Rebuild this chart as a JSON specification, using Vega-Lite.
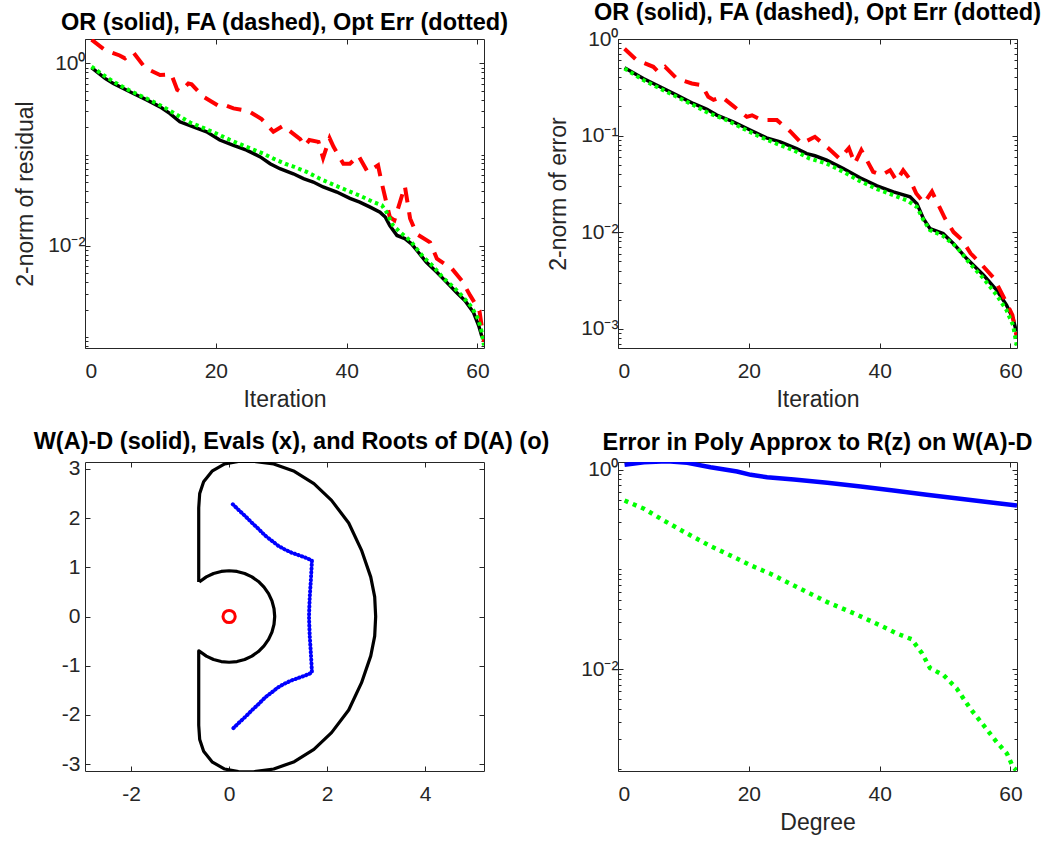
{
  "$schema": "https://vega.github.io/schema/vega-lite/v6.json",
  "background": "white",
  "padding": {"left": 14, "top": 0, "right": 5, "bottom": 2},
  "config": {
    "font": "Liberation Sans",
    "view": {"stroke": "#262626", "strokeWidth": 1},
    "axis": {
      "domain": false, "grid": false,
      "labelFont": "Liberation Sans", "labelFontSize": 21, "labelColor": "#262626",
      "tickColor": "#262626", "tickWidth": 1, "tickSize": -5,
      "titleFont": "Liberation Sans", "titleFontSize": 23, "titleFontWeight": "normal", "titleColor": "#262626"
    },
    "title": {"font": "Liberation Sans", "fontSize": 23.5, "fontWeight": "bold", "color": "#000000", "anchor": "middle", "baseline": "alphabetic", "offset": 4}
  },
  "datasets": {
    "res_or": [
      {"it": 1, "v": 0.897}, {"it": 3.06, "v": 0.684}, {"it": 4.33, "v": 0.603}, {"it": 5.86, "v": 0.531}, {"it": 7.39, "v": 0.468},
      {"it": 9.43, "v": 0.398}, {"it": 11.47, "v": 0.334}, {"it": 13.0, "v": 0.282}, {"it": 14.5, "v": 0.229}, {"it": 16.56, "v": 0.201},
      {"it": 18.6, "v": 0.178}, {"it": 20.6, "v": 0.1445}, {"it": 22.7, "v": 0.126}, {"it": 24.7, "v": 0.112}, {"it": 26.8, "v": 0.0944},
      {"it": 28.3, "v": 0.0794}, {"it": 29.8, "v": 0.0701}, {"it": 31.85, "v": 0.0617}, {"it": 33.4, "v": 0.0545}, {"it": 34.9, "v": 0.0501},
      {"it": 36.4, "v": 0.0442}, {"it": 38.5, "v": 0.0389}, {"it": 40.5, "v": 0.0331}, {"it": 42.0, "v": 0.0302}, {"it": 43.6, "v": 0.0266},
      {"it": 45.1, "v": 0.0234}, {"it": 45.9, "v": 0.0207}, {"it": 46.6, "v": 0.0167}, {"it": 47.7, "v": 0.0130}, {"it": 48.9, "v": 0.0120},
      {"it": 49.95, "v": 0.01047}, {"it": 50.96, "v": 0.00851}, {"it": 52.2, "v": 0.00661}, {"it": 53.8, "v": 0.00513}, {"it": 55.3, "v": 0.00398},
      {"it": 56.8, "v": 0.00309}, {"it": 58.1, "v": 0.00251}, {"it": 59.4, "v": 0.00186}, {"it": 60.2, "v": 0.00133}, {"it": 60.7, "v": 0.00100}
    ],
    "res_fa": [
      {"it": 1, "v": 1.82}, {"it": 3.06, "v": 1.40}, {"it": 5.3, "v": 1.22}, {"it": 6.1, "v": 1.135}, {"it": 7.39, "v": 1.32},
      {"it": 9.17, "v": 0.897}, {"it": 11.47, "v": 0.745}, {"it": 13.2, "v": 0.759}, {"it": 14.1, "v": 0.513}, {"it": 14.6, "v": 0.490},
      {"it": 15.8, "v": 0.603}, {"it": 16.3, "v": 0.589}, {"it": 18.1, "v": 0.431}, {"it": 20.4, "v": 0.343}, {"it": 21.1, "v": 0.355},
      {"it": 22.7, "v": 0.321}, {"it": 25.0, "v": 0.300}, {"it": 27.0, "v": 0.245}, {"it": 28.8, "v": 0.178}, {"it": 30.3, "v": 0.207},
      {"it": 30.8, "v": 0.193}, {"it": 32.9, "v": 0.148}, {"it": 33.6, "v": 0.1245}, {"it": 34.3, "v": 0.1445}, {"it": 35.7, "v": 0.138},
      {"it": 36.4, "v": 0.0920}, {"it": 37.4, "v": 0.151}, {"it": 38.0, "v": 0.1216}, {"it": 39.5, "v": 0.0794}, {"it": 40.5, "v": 0.0794},
      {"it": 41.8, "v": 0.0977}, {"it": 43.2, "v": 0.0646}, {"it": 44.8, "v": 0.0764}, {"it": 45.4, "v": 0.0479}, {"it": 46.6, "v": 0.0207},
      {"it": 47.3, "v": 0.01905}, {"it": 48.9, "v": 0.0452}, {"it": 49.7, "v": 0.0200}, {"it": 50.7, "v": 0.0135}, {"it": 52.75, "v": 0.01096},
      {"it": 53.8, "v": 0.00724}, {"it": 56.1, "v": 0.00562}, {"it": 57.6, "v": 0.00417}, {"it": 58.9, "v": 0.00285}, {"it": 60.3, "v": 0.00195},
      {"it": 61, "v": 0.00089}
    ],
    "res_opt": [
      {"it": 1, "v": 0.920}, {"it": 2.8, "v": 0.745}, {"it": 4.33, "v": 0.631}, {"it": 6.88, "v": 0.501}, {"it": 9.43, "v": 0.412},
      {"it": 11.97, "v": 0.334}, {"it": 14.0, "v": 0.275}, {"it": 16.06, "v": 0.225}, {"it": 18.1, "v": 0.196}, {"it": 20.1, "v": 0.170},
      {"it": 22.2, "v": 0.1445}, {"it": 24.7, "v": 0.1216}, {"it": 27.3, "v": 0.1023}, {"it": 28.8, "v": 0.0904}, {"it": 30.6, "v": 0.0794},
      {"it": 31.85, "v": 0.0741}, {"it": 33.9, "v": 0.0646}, {"it": 35.9, "v": 0.0545}, {"it": 37.97, "v": 0.0468}, {"it": 40.0, "v": 0.0407},
      {"it": 42.0, "v": 0.0355}, {"it": 44.1, "v": 0.0302}, {"it": 45.4, "v": 0.0278}, {"it": 46.1, "v": 0.0234}, {"it": 47.1, "v": 0.0167},
      {"it": 48.2, "v": 0.0141}, {"it": 49.7, "v": 0.01148}, {"it": 50.7, "v": 0.00933}, {"it": 51.7, "v": 0.00759}, {"it": 53.3, "v": 0.00589},
      {"it": 54.8, "v": 0.00442}, {"it": 56.3, "v": 0.00355}, {"it": 57.8, "v": 0.00275}, {"it": 59.1, "v": 0.00214}, {"it": 60.1, "v": 0.00158},
      {"it": 60.6, "v": 0.00118}, {"it": 61, "v": 0.00081}
    ],
    "err_or": [
      {"it": 1, "v": 0.503}, {"it": 3.87, "v": 0.390}, {"it": 6.42, "v": 0.320}, {"it": 8.97, "v": 0.262}, {"it": 11.5, "v": 0.215},
      {"it": 13.6, "v": 0.187}, {"it": 15.1, "v": 0.163}, {"it": 17.6, "v": 0.139}, {"it": 20.2, "v": 0.114}, {"it": 22.7, "v": 0.0946},
      {"it": 24.8, "v": 0.0861}, {"it": 27.3, "v": 0.0733}, {"it": 28.85, "v": 0.0650}, {"it": 30.1, "v": 0.0617}, {"it": 31.9, "v": 0.0556},
      {"it": 34.45, "v": 0.0455}, {"it": 37.0, "v": 0.0365}, {"it": 39.6, "v": 0.0301}, {"it": 42.1, "v": 0.0261}, {"it": 44.65, "v": 0.0232},
      {"it": 45.7, "v": 0.0197}, {"it": 46.7, "v": 0.0138}, {"it": 47.7, "v": 0.01086}, {"it": 49.7, "v": 0.00964}, {"it": 51.3, "v": 0.00759},
      {"it": 53.3, "v": 0.00531}, {"it": 55.9, "v": 0.00357}, {"it": 57.9, "v": 0.00250}, {"it": 59.4, "v": 0.00175}, {"it": 60.4, "v": 0.00127},
      {"it": 60.9, "v": 0.00093}
    ],
    "err_fa": [
      {"it": 1, "v": 0.794}, {"it": 2.86, "v": 0.604}, {"it": 5.4, "v": 0.515}, {"it": 6.16, "v": 0.457}, {"it": 7.2, "v": 0.515},
      {"it": 8.97, "v": 0.390}, {"it": 11.3, "v": 0.346}, {"it": 12.8, "v": 0.333}, {"it": 13.8, "v": 0.252}, {"it": 14.6, "v": 0.234},
      {"it": 15.85, "v": 0.252}, {"it": 17.6, "v": 0.203}, {"it": 19.7, "v": 0.156}, {"it": 20.5, "v": 0.162}, {"it": 22.0, "v": 0.1445},
      {"it": 24.3, "v": 0.1445}, {"it": 26.3, "v": 0.111}, {"it": 28.1, "v": 0.0826}, {"it": 30.1, "v": 0.0970}, {"it": 32.2, "v": 0.0733},
      {"it": 33.9, "v": 0.0575}, {"it": 35.3, "v": 0.0741}, {"it": 36.2, "v": 0.0513}, {"it": 37.2, "v": 0.0708}, {"it": 38.0, "v": 0.0562},
      {"it": 39.0, "v": 0.0421}, {"it": 40.3, "v": 0.0389}, {"it": 41.6, "v": 0.0437}, {"it": 42.6, "v": 0.0339}, {"it": 43.6, "v": 0.0437},
      {"it": 44.6, "v": 0.0355}, {"it": 45.6, "v": 0.0251}, {"it": 46.8, "v": 0.0200}, {"it": 48.0, "v": 0.0263}, {"it": 50.0, "v": 0.0138},
      {"it": 51.3, "v": 0.0100}, {"it": 52.6, "v": 0.00832}, {"it": 53.9, "v": 0.00603}, {"it": 55.5, "v": 0.00468}, {"it": 57.5, "v": 0.00331},
      {"it": 59.0, "v": 0.00209}, {"it": 60.3, "v": 0.00138}, {"it": 61, "v": 0.000794}
    ],
    "err_opt": [
      {"it": 1, "v": 0.494}, {"it": 3.87, "v": 0.375}, {"it": 6.42, "v": 0.307}, {"it": 8.97, "v": 0.252}, {"it": 11.5, "v": 0.207},
      {"it": 14.0, "v": 0.169}, {"it": 16.6, "v": 0.1445}, {"it": 19.15, "v": 0.118}, {"it": 21.7, "v": 0.0970}, {"it": 24.2, "v": 0.0826},
      {"it": 26.8, "v": 0.0706}, {"it": 29.3, "v": 0.0578}, {"it": 31.9, "v": 0.0513}, {"it": 34.45, "v": 0.0421}, {"it": 37.0, "v": 0.0337},
      {"it": 39.6, "v": 0.0279}, {"it": 42.1, "v": 0.0241}, {"it": 44.1, "v": 0.0214}, {"it": 45.7, "v": 0.0182}, {"it": 46.7, "v": 0.0133},
      {"it": 47.7, "v": 0.01047}, {"it": 49.7, "v": 0.00912}, {"it": 51.75, "v": 0.00703}, {"it": 53.8, "v": 0.00472}, {"it": 55.9, "v": 0.00330},
      {"it": 57.9, "v": 0.00222}, {"it": 59.4, "v": 0.00155}, {"it": 60.4, "v": 0.00108}, {"it": 61, "v": 0.00065}
    ],
    "poly_c": [
      {"d": 1, "v": 1.114}, {"d": 3.97, "v": 1.18}, {"d": 7.54, "v": 1.21}, {"d": 10.6, "v": 1.167}, {"d": 14.15, "v": 1.054},
      {"d": 18.2, "v": 0.955}, {"d": 20.3, "v": 0.885}, {"d": 22.8, "v": 0.838}, {"d": 26.9, "v": 0.794}, {"d": 32.0, "v": 0.736},
      {"d": 37.1, "v": 0.676}, {"d": 42.1, "v": 0.617}, {"d": 47.2, "v": 0.558}, {"d": 52.3, "v": 0.509}, {"d": 57.4, "v": 0.465},
      {"d": 61, "v": 0.437}
    ],
    "poly_o": [
      {"d": 1, "v": 0.490}, {"d": 3.97, "v": 0.405}, {"d": 7.0, "v": 0.309}, {"d": 10.6, "v": 0.228}, {"d": 14.15, "v": 0.171},
      {"d": 17.7, "v": 0.133}, {"d": 20.3, "v": 0.1096}, {"d": 23.3, "v": 0.0906}, {"d": 27.4, "v": 0.0665}, {"d": 32.0, "v": 0.0471},
      {"d": 36.55, "v": 0.0352}, {"d": 40.1, "v": 0.0275}, {"d": 42.65, "v": 0.0228}, {"d": 44.9, "v": 0.0200}, {"d": 46.5, "v": 0.0144},
      {"d": 47.7, "v": 0.0103}, {"d": 49.8, "v": 0.00871}, {"d": 51.8, "v": 0.00641}, {"d": 53.85, "v": 0.00405}, {"d": 55.9, "v": 0.00275},
      {"d": 57.9, "v": 0.00187}, {"d": 59.45, "v": 0.00144}, {"d": 60.4, "v": 0.00105}, {"d": 60.9, "v": 0.00098}
    ],
    "wad": [
      {"o": 1, "x": -0.62, "y": 0.70}, {"o": 2, "x": -0.62, "y": 1.5}, {"o": 3, "x": -0.62, "y": 2.21}, {"o": 4, "x": -0.60, "y": 2.50},
      {"o": 5, "x": -0.52, "y": 2.74}, {"o": 6, "x": -0.34, "y": 2.96}, {"o": 7, "x": -0.09, "y": 3.10}, {"o": 8, "x": 0.19, "y": 3.15},
      {"o": 9, "x": 0.50, "y": 3.155}, {"o": 10, "x": 0.91, "y": 3.10}, {"o": 11, "x": 1.33, "y": 2.95}, {"o": 12, "x": 1.73, "y": 2.70},
      {"o": 13, "x": 2.09, "y": 2.36}, {"o": 14, "x": 2.44, "y": 1.90}, {"o": 15, "x": 2.70, "y": 1.35}, {"o": 16, "x": 2.89, "y": 0.80},
      {"o": 17, "x": 2.97, "y": 0.40}, {"o": 18, "x": 2.99, "y": 0}, {"o": 19, "x": 2.97, "y": -0.40}, {"o": 20, "x": 2.89, "y": -0.80},
      {"o": 21, "x": 2.70, "y": -1.35}, {"o": 22, "x": 2.44, "y": -1.90}, {"o": 23, "x": 2.09, "y": -2.36}, {"o": 24, "x": 1.73, "y": -2.70},
      {"o": 25, "x": 1.33, "y": -2.95}, {"o": 26, "x": 0.91, "y": -3.10}, {"o": 27, "x": 0.50, "y": -3.155}, {"o": 28, "x": 0.19, "y": -3.15},
      {"o": 29, "x": -0.09, "y": -3.10}, {"o": 30, "x": -0.34, "y": -2.96}, {"o": 31, "x": -0.52, "y": -2.74}, {"o": 32, "x": -0.60, "y": -2.50},
      {"o": 33, "x": -0.62, "y": -2.21}, {"o": 34, "x": -0.62, "y": -1.5}, {"o": 35, "x": -0.62, "y": -0.70},
      {"o": 36, "x": -0.61, "y": -0.70}, {"o": 37, "x": -0.465, "y": -0.805}, {"o": 38, "x": -0.318, "y": -0.874}, {"o": 39, "x": -0.161, "y": -0.916},
      {"o": 40, "x": 0, "y": -0.93}, {"o": 41, "x": 0.161, "y": -0.916}, {"o": 42, "x": 0.318, "y": -0.874}, {"o": 43, "x": 0.465, "y": -0.805},
      {"o": 44, "x": 0.598, "y": -0.712}, {"o": 45, "x": 0.712, "y": -0.598}, {"o": 46, "x": 0.805, "y": -0.465}, {"o": 47, "x": 0.874, "y": -0.318},
      {"o": 48, "x": 0.916, "y": -0.161}, {"o": 49, "x": 0.93, "y": 0}, {"o": 50, "x": 0.916, "y": 0.161}, {"o": 51, "x": 0.874, "y": 0.318},
      {"o": 52, "x": 0.805, "y": 0.465}, {"o": 53, "x": 0.712, "y": 0.598}, {"o": 54, "x": 0.598, "y": 0.712}, {"o": 55, "x": 0.465, "y": 0.805},
      {"o": 56, "x": 0.318, "y": 0.874}, {"o": 57, "x": 0.161, "y": 0.916}, {"o": 58, "x": 0, "y": 0.93}, {"o": 59, "x": -0.161, "y": 0.916},
      {"o": 60, "x": -0.318, "y": 0.874}, {"o": 61, "x": -0.465, "y": 0.805}, {"o": 62, "x": -0.61, "y": 0.70}
    ],
    "ev": [
      {"o": 1, "x": 0.075, "y": 2.28}, {"o": 2, "x": 0.20, "y": 2.16}, {"o": 3, "x": 0.33, "y": 2.04}, {"o": 4, "x": 0.46, "y": 1.91},
      {"o": 5, "x": 0.60, "y": 1.78}, {"o": 6, "x": 0.73, "y": 1.65}, {"o": 7, "x": 0.87, "y": 1.54}, {"o": 8, "x": 1.00, "y": 1.44},
      {"o": 9, "x": 1.14, "y": 1.36}, {"o": 10, "x": 1.27, "y": 1.30}, {"o": 11, "x": 1.41, "y": 1.25}, {"o": 12, "x": 1.55, "y": 1.20},
      {"o": 13, "x": 1.69, "y": 1.14}, {"o": 14, "x": 1.68, "y": 0.95}, {"o": 15, "x": 1.665, "y": 0.7}, {"o": 16, "x": 1.645, "y": 0.4},
      {"o": 17, "x": 1.635, "y": 0.15}, {"o": 18, "x": 1.63, "y": 0}, {"o": 19, "x": 1.635, "y": -0.15}, {"o": 20, "x": 1.645, "y": -0.4},
      {"o": 21, "x": 1.665, "y": -0.7}, {"o": 22, "x": 1.68, "y": -0.95}, {"o": 23, "x": 1.69, "y": -1.14}, {"o": 24, "x": 1.55, "y": -1.20},
      {"o": 25, "x": 1.41, "y": -1.25}, {"o": 26, "x": 1.27, "y": -1.30}, {"o": 27, "x": 1.14, "y": -1.36}, {"o": 28, "x": 1.00, "y": -1.44},
      {"o": 29, "x": 0.87, "y": -1.54}, {"o": 30, "x": 0.73, "y": -1.65}, {"o": 31, "x": 0.60, "y": -1.78}, {"o": 32, "x": 0.46, "y": -1.91},
      {"o": 33, "x": 0.33, "y": -2.04}, {"o": 34, "x": 0.20, "y": -2.16}, {"o": 35, "x": 0.075, "y": -2.28}
    ],
    "rootpts": [{"x": 0, "y": 0}]
  },
  "bounds": "flush",
  "columns": 2,
  "spacing": {"row": 114, "column": 134},
  "concat": [
    {
      "width": 399, "height": 309,
      "title": {"text": "OR (solid), FA (dashed), Opt Err (dotted)"},
      "resolve": {"axis": {"x": "independent", "y": "independent"}},
      "layer": [
        {
          "data": {"name": "res_or"},
          "mark": {"type": "line", "color": "#000000", "strokeWidth": 3.5, "clip": true},
          "encoding": {
            "x": {"field": "it", "type": "quantitative", "scale": {"domain": [0, 61], "nice": false, "zero": false},
                  "axis": {"orient": "bottom", "values": [0, 20, 40, 60], "title": "Iteration", "labelPadding": 17, "titlePadding": 7}},
            "y": {"field": "v", "type": "quantitative", "scale": {"type": "log", "domain": [0.00076, 1.85], "nice": false},
                  "axis": {"orient": "left", "values": [0.01, 1], "labelExpr": "datum.value >= 0.5 ? '10⁰' : datum.value >= 0.05 ? '10⁻¹' : datum.value >= 0.005 ? '10⁻²' : '10⁻³'", "title": "2-norm of residual", "labelPadding": 5, "labelOffset": 0, "titlePadding": 10}}
          }
        },
        {
          "data": {"name": "res_fa"},
          "mark": {"type": "line", "color": "#FF0000", "strokeWidth": 4, "strokeDash": [15, 10], "clip": true},
          "encoding": {
            "x": {"field": "it", "type": "quantitative", "scale": {"domain": [0, 61], "nice": false, "zero": false},
                  "axis": {"orient": "top", "values": [0, 20, 40, 60], "labels": false, "title": null}},
            "y": {"field": "v", "type": "quantitative", "scale": {"type": "log", "domain": [0.00076, 1.85], "nice": false},
                  "axis": {"orient": "right", "values": [0.01, 1], "labels": false, "title": null}}
          }
        },
        {
          "data": {"name": "res_opt"},
          "mark": {"type": "line", "color": "#00FF00", "strokeWidth": 4, "strokeDash": [3.5, 3.5], "clip": true},
          "encoding": {
            "x": {"field": "it", "type": "quantitative", "scale": {"domain": [0, 61], "nice": false, "zero": false}, "axis": null},
            "y": {"field": "v", "type": "quantitative", "scale": {"type": "log", "domain": [0.00076, 1.85], "nice": false},
                  "axis": {"orient": "left", "values": [0.0008, 0.0009, 0.001, 0.002, 0.003, 0.004, 0.005, 0.006, 0.007, 0.008, 0.009, 0.02, 0.03, 0.04, 0.05, 0.06, 0.07, 0.08, 0.09, 0.1, 0.2, 0.3, 0.4, 0.5, 0.6, 0.7, 0.8, 0.9], "labels": false, "tickSize": -3, "title": null}}
          }
        },
        {
          "data": {"name": "res_opt"},
          "mark": {"type": "line", "opacity": 0},
          "encoding": {
            "x": {"field": "it", "type": "quantitative", "scale": {"domain": [0, 61], "nice": false, "zero": false}, "axis": null},
            "y": {"field": "v", "type": "quantitative", "scale": {"type": "log", "domain": [0.00076, 1.85], "nice": false},
                  "axis": {"orient": "right", "values": [0.0008, 0.0009, 0.001, 0.002, 0.003, 0.004, 0.005, 0.006, 0.007, 0.008, 0.009, 0.02, 0.03, 0.04, 0.05, 0.06, 0.07, 0.08, 0.09, 0.1, 0.2, 0.3, 0.4, 0.5, 0.6, 0.7, 0.8, 0.9], "labels": false, "tickSize": -3, "title": null}}
          }
        }
      ]
    },
    {
      "width": 399, "height": 309,
      "title": {"text": "OR (solid), FA (dashed), Opt Err (dotted)"},
      "resolve": {"axis": {"x": "independent", "y": "independent"}},
      "layer": [
        {
          "data": {"name": "err_or"},
          "mark": {"type": "line", "color": "#000000", "strokeWidth": 3.5, "clip": true},
          "encoding": {
            "x": {"field": "it", "type": "quantitative", "scale": {"domain": [0, 61], "nice": false, "zero": false},
                  "axis": {"orient": "bottom", "values": [0, 20, 40, 60], "title": "Iteration", "labelPadding": 17, "titlePadding": 7}},
            "y": {"field": "v", "type": "quantitative", "scale": {"type": "log", "domain": [0.00063, 1], "nice": false},
                  "axis": {"orient": "left", "values": [0.001, 0.01, 0.1, 1], "labelExpr": "datum.value >= 0.5 ? '10⁰' : datum.value >= 0.05 ? '10⁻¹' : datum.value >= 0.005 ? '10⁻²' : '10⁻³'", "title": "2-norm of error", "labelPadding": 5, "labelOffset": 0, "titlePadding": 10}}
          }
        },
        {
          "data": {"name": "err_fa"},
          "mark": {"type": "line", "color": "#FF0000", "strokeWidth": 4, "strokeDash": [15, 10], "clip": true},
          "encoding": {
            "x": {"field": "it", "type": "quantitative", "scale": {"domain": [0, 61], "nice": false, "zero": false},
                  "axis": {"orient": "top", "values": [0, 20, 40, 60], "labels": false, "title": null}},
            "y": {"field": "v", "type": "quantitative", "scale": {"type": "log", "domain": [0.00063, 1], "nice": false},
                  "axis": {"orient": "right", "values": [0.001, 0.01, 0.1, 1], "labels": false, "title": null}}
          }
        },
        {
          "data": {"name": "err_opt"},
          "mark": {"type": "line", "color": "#00FF00", "strokeWidth": 4, "strokeDash": [3.5, 3.5], "clip": true},
          "encoding": {
            "x": {"field": "it", "type": "quantitative", "scale": {"domain": [0, 61], "nice": false, "zero": false}, "axis": null},
            "y": {"field": "v", "type": "quantitative", "scale": {"type": "log", "domain": [0.00063, 1], "nice": false},
                  "axis": {"orient": "left", "values": [0.0007, 0.0008, 0.0009, 0.002, 0.003, 0.004, 0.005, 0.006, 0.007, 0.008, 0.009, 0.02, 0.03, 0.04, 0.05, 0.06, 0.07, 0.08, 0.09, 0.2, 0.3, 0.4, 0.5, 0.6, 0.7, 0.8, 0.9], "labels": false, "tickSize": -3, "title": null}}
          }
        },
        {
          "data": {"name": "err_opt"},
          "mark": {"type": "line", "opacity": 0},
          "encoding": {
            "x": {"field": "it", "type": "quantitative", "scale": {"domain": [0, 61], "nice": false, "zero": false}, "axis": null},
            "y": {"field": "v", "type": "quantitative", "scale": {"type": "log", "domain": [0.00063, 1], "nice": false},
                  "axis": {"orient": "right", "values": [0.0007, 0.0008, 0.0009, 0.002, 0.003, 0.004, 0.005, 0.006, 0.007, 0.008, 0.009, 0.02, 0.03, 0.04, 0.05, 0.06, 0.07, 0.08, 0.09, 0.2, 0.3, 0.4, 0.5, 0.6, 0.7, 0.8, 0.9], "labels": false, "tickSize": -3, "title": null}}
          }
        }
      ]
    },
    {
      "width": 399, "height": 309,
      "title": {"text": "W(A)-D (solid), Evals (x), and Roots of D(A) (o)", "dx": 7},
      "resolve": {"axis": {"x": "independent", "y": "independent"}},
      "layer": [
        {
          "data": {"name": "wad"},
          "mark": {"type": "line", "color": "#000000", "strokeWidth": 3.2, "strokeJoin": "round", "clip": true},
          "encoding": {
            "order": {"field": "o", "type": "quantitative"},
            "x": {"field": "x", "type": "quantitative", "scale": {"domain": [-2.94, 5.2], "nice": false, "zero": false},
                  "axis": {"orient": "bottom", "values": [-2, 0, 2, 4], "labelExpr": "datum.value < 0 ? '-' + (-datum.value) : '' + datum.value", "title": null, "labelPadding": 17}},
            "y": {"field": "y", "type": "quantitative", "scale": {"domain": [-3.14, 3.14], "nice": false, "zero": false},
                  "axis": {"orient": "left", "values": [-3, -2, -1, 0, 1, 2, 3], "labelExpr": "datum.value < 0 ? '-' + (-datum.value) : '' + datum.value", "title": null, "labelPadding": 10}}
          }
        },
        {
          "data": {"name": "ev"},
          "mark": {"type": "line", "color": "#0000FF", "strokeWidth": 4, "strokeCap": "round", "strokeDash": [0.5, 3.3], "clip": true},
          "encoding": {
            "order": {"field": "o", "type": "quantitative"},
            "x": {"field": "x", "type": "quantitative", "scale": {"domain": [-2.94, 5.2], "nice": false, "zero": false},
                  "axis": {"orient": "top", "values": [-2, 0, 2, 4], "labels": false, "title": null}},
            "y": {"field": "y", "type": "quantitative", "scale": {"domain": [-3.14, 3.14], "nice": false, "zero": false},
                  "axis": {"orient": "right", "values": [-3, -2, -1, 0, 1, 2, 3], "labels": false, "title": null}}
          }
        },
        {
          "data": {"name": "rootpts"},
          "mark": {"type": "point", "shape": "circle", "filled": false, "color": "#FF0000", "strokeWidth": 3, "size": 150, "opacity": 1},
          "encoding": {
            "x": {"field": "x", "type": "quantitative", "scale": {"domain": [-2.94, 5.2], "nice": false, "zero": false}, "axis": null},
            "y": {"field": "y", "type": "quantitative", "scale": {"domain": [-3.14, 3.14], "nice": false, "zero": false}, "axis": null}
          }
        }
      ]
    },
    {
      "width": 399, "height": 309,
      "title": {"text": "Error in Poly Approx to R(z) on W(A)-D"},
      "resolve": {"axis": {"x": "independent", "y": "independent"}},
      "layer": [
        {
          "data": {"name": "poly_c"},
          "mark": {"type": "line", "color": "#0000FF", "strokeWidth": 4.5, "clip": true},
          "encoding": {
            "x": {"field": "d", "type": "quantitative", "scale": {"domain": [0, 61], "nice": false, "zero": false},
                  "axis": {"orient": "bottom", "values": [0, 20, 40, 60], "title": "Degree", "labelPadding": 17, "titlePadding": 7}},
            "y": {"field": "v", "type": "quantitative", "scale": {"type": "log", "domain": [0.00096, 1.19], "nice": false},
                  "axis": {"orient": "left", "values": [0.01, 1], "labelExpr": "datum.value >= 0.5 ? '10⁰' : datum.value >= 0.05 ? '10⁻¹' : datum.value >= 0.005 ? '10⁻²' : '10⁻³'", "title": null, "labelPadding": 5, "labelOffset": 0}}
          }
        },
        {
          "data": {"name": "poly_o"},
          "mark": {"type": "line", "color": "#00FF00", "strokeWidth": 4.5, "strokeDash": [4, 5], "clip": true},
          "encoding": {
            "x": {"field": "d", "type": "quantitative", "scale": {"domain": [0, 61], "nice": false, "zero": false},
                  "axis": {"orient": "top", "values": [0, 20, 40, 60], "labels": false, "title": null}},
            "y": {"field": "v", "type": "quantitative", "scale": {"type": "log", "domain": [0.00096, 1.19], "nice": false},
                  "axis": {"orient": "right", "values": [0.01, 1], "labels": false, "title": null}}
          }
        },
        {
          "data": {"name": "poly_o"},
          "mark": {"type": "line", "opacity": 0},
          "encoding": {
            "x": {"field": "d", "type": "quantitative", "scale": {"domain": [0, 61], "nice": false, "zero": false}, "axis": null},
            "y": {"field": "v", "type": "quantitative", "scale": {"type": "log", "domain": [0.00096, 1.19], "nice": false},
                  "axis": {"orient": "left", "values": [0.001, 0.002, 0.003, 0.004, 0.005, 0.006, 0.007, 0.008, 0.009, 0.02, 0.03, 0.04, 0.05, 0.06, 0.07, 0.08, 0.09, 0.1, 0.2, 0.3, 0.4, 0.5, 0.6, 0.7, 0.8, 0.9], "labels": false, "tickSize": -3, "title": null}}
          }
        },
        {
          "data": {"name": "poly_o"},
          "mark": {"type": "line", "opacity": 0},
          "encoding": {
            "x": {"field": "d", "type": "quantitative", "scale": {"domain": [0, 61], "nice": false, "zero": false}, "axis": null},
            "y": {"field": "v", "type": "quantitative", "scale": {"type": "log", "domain": [0.00096, 1.19], "nice": false},
                  "axis": {"orient": "right", "values": [0.001, 0.002, 0.003, 0.004, 0.005, 0.006, 0.007, 0.008, 0.009, 0.02, 0.03, 0.04, 0.05, 0.06, 0.07, 0.08, 0.09, 0.1, 0.2, 0.3, 0.4, 0.5, 0.6, 0.7, 0.8, 0.9], "labels": false, "tickSize": -3, "title": null}}
          }
        }
      ]
    }
  ]
}
